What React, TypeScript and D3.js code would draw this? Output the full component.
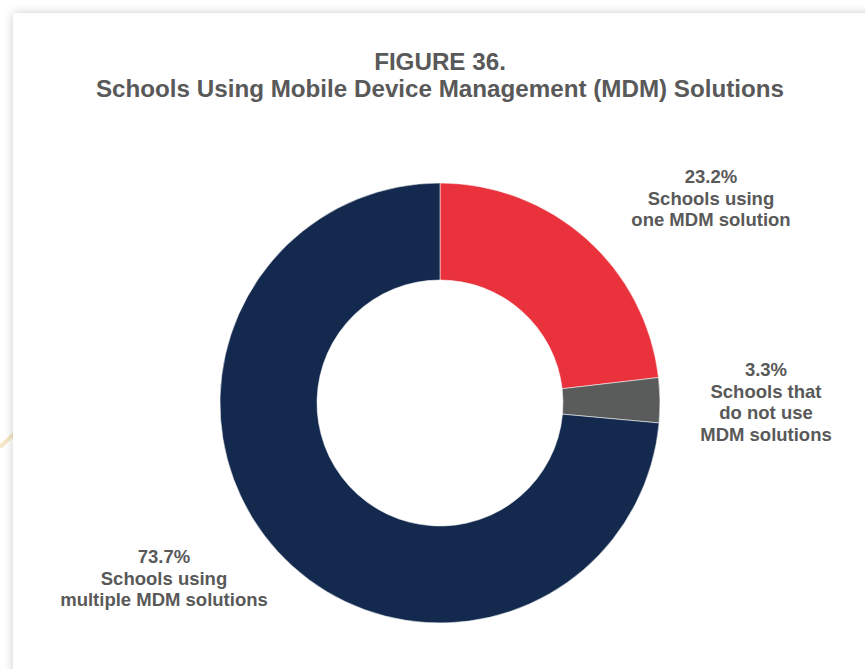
import React from "react";
import * as d3 from "d3";

const categories = ["Schools using one MDM solution", "Schools that do not use MDM solutions", "Schools using multiple MDM solutions"];
const values = [23.2, 3.3, 73.7];
const colors = ["#e9323c", "#5a5b5b", "#132a4e"];
const labelLines = [
  ["23.2%", "Schools using", "one MDM solution"],
  ["3.3%", "Schools that", "do not use", "MDM solutions"],
  ["73.7%", "Schools using", "multiple MDM solutions"],
];
const labelPos = [
  [711, 183],
  [766, 376],
  [164, 563],
];
const titleLines = ["FIGURE 36.", "Schools Using Mobile Device Management (MDM) Solutions"];

const W = 865;
const H = 669;
const cx = 440;
const cy = 403;
const R = 220;
const r = 123;

export default function App() {
  const pie = d3.pie<number>().sort(null).value((d) => d)(values);
  const arc = d3.arc<d3.PieArcDatum<number>>().innerRadius(r).outerRadius(R);
  const font = "'Liberation Sans', Arial, Helvetica, sans-serif";
  return (
    <div style={{ position: "fixed", left: 0, top: 0, width: W, height: H }}>
      <svg width={W} height={H} style={{ display: "block" }}>
        <defs>
          <filter id="sh" x="-10%" y="-10%" width="120%" height="120%">
            <feGaussianBlur stdDeviation="5" />
          </filter>
        </defs>
        <rect x={0} y={0} width={W} height={H} fill="#ffffff" />
        <line x1={0} y1={447} x2={14} y2={434} stroke="#f6e7c6" strokeWidth={4} />
        <rect x={13} y={13} width={W + 40} height={H + 40} fill="rgba(0,0,0,0.2)" filter="url(#sh)" />
        <rect x={13} y={13} width={W} height={H} fill="#ffffff" />
        <g fontFamily={font} fontWeight="bold" fill="#595959" textAnchor="middle">
          <text x={440} y={70} fontSize={24.2}>{titleLines[0]}</text>
          <text x={440} y={97} fontSize={24.2}>{titleLines[1]}</text>
        </g>
        <g transform={`translate(${cx},${cy})`}>
          {pie.map((p, i) => (
            <path key={categories[i]} d={arc(p) || ""} fill={colors[i]} stroke="#ffffff" strokeWidth={0.75} strokeOpacity={0.7} />
          ))}
        </g>
        <g fontFamily={font} fontWeight="bold" fill="#595959" textAnchor="middle" fontSize={18.5}>
          {labelLines.map((lines, i) => (
            <text key={i} x={labelPos[i][0]} y={labelPos[i][1]}>
              {lines.map((l, j) => (
                <tspan key={j} x={labelPos[i][0]} y={labelPos[i][1] + j * 21.5}>{l}</tspan>
              ))}
            </text>
          ))}
        </g>
      </svg>
    </div>
  );
}
